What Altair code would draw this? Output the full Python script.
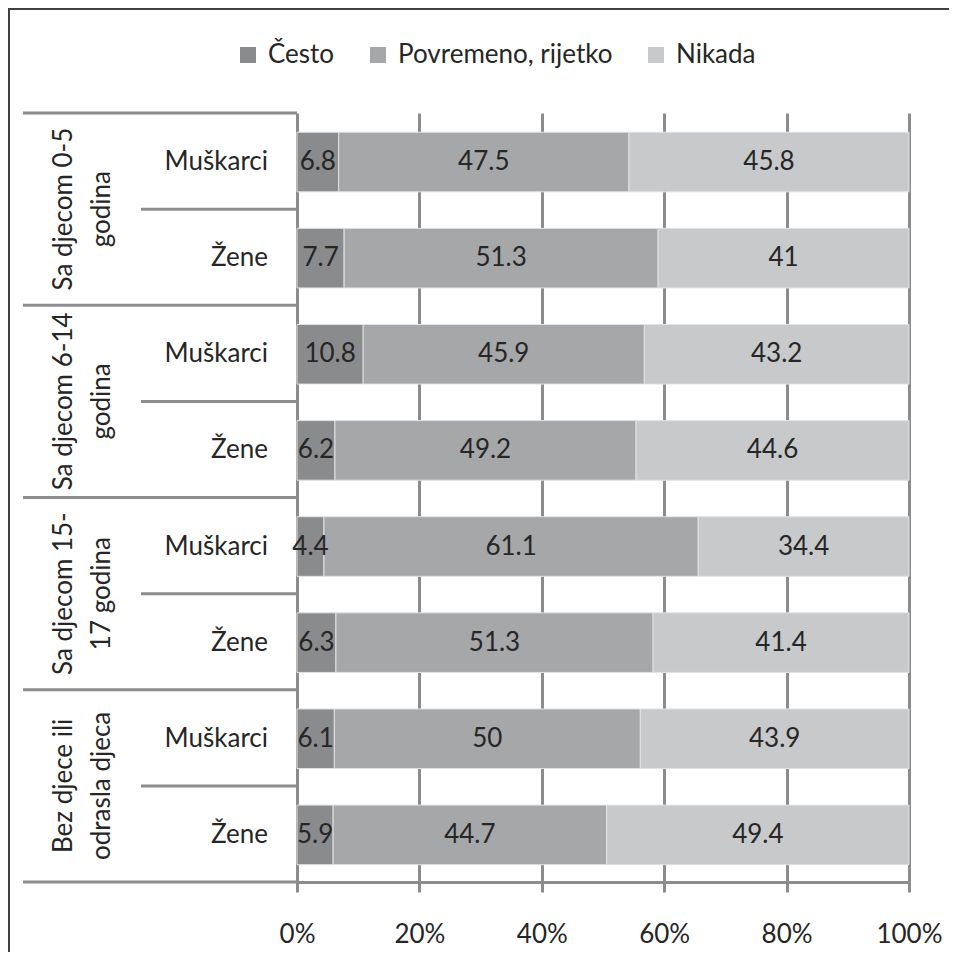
import altair as alt
import pandas as pd

# ---- data ----
groups = ["Sa djecom 0-5\ngodina", "Sa djecom 6-14\ngodina",
          "Sa djecom 15-\n17 godina", "Bez djece ili\nodrasla djeca"]
sexes = ["Muškarci", "Žene"]
categories = ["Često", "Povremeno, rijetko", "Nikada"]
cesto = [6.8, 7.7, 10.8, 6.2, 4.4, 6.3, 6.1, 5.9]
povremeno = [47.5, 51.3, 45.9, 49.2, 61.1, 51.3, 50, 44.7]
nikada = [45.8, 41, 43.2, 44.6, 34.4, 41.4, 43.9, 49.4]
x_ticks = [0, 0.2, 0.4, 0.6, 0.8, 1.0]
colors = ["#8a8b8d", "#a6a7a9", "#c8c9cb"]

series = [cesto, povremeno, nikada]
rows = []
for r in range(len(cesto)):
    for k, cat in enumerate(categories):
        v = series[k][r]
        rows.append({"row": r, "cat": cat, "order": k, "value": v,
                     "label": f"{v:g}"})
df = pd.DataFrame(rows)

df_sub = pd.DataFrame({"row": list(range(len(groups) * len(sexes))),
                       "sex": sexes * len(groups)})
df_grp = pd.DataFrame({"g": list(range(len(groups))), "label": groups})
df_gsep = pd.DataFrame({"b": [0, 2, 4, 6, 8]})
df_ssep = pd.DataFrame({"b": [1, 3, 5, 7]})
one = pd.DataFrame({"a": [0]})

FONT = "Lato"
TXT = "#262626"
GRID = "#8c8c8e"

yscale = alt.Scale(domain=[0, 8], reverse=True, nice=False, zero=False)
xscale = alt.Scale(domain=[0, 1], nice=False)

xaxis = alt.Axis(values=x_ticks, format="%", title=None, grid=True,
                 gridColor=GRID, gridWidth=3, domainColor=GRID, domainWidth=3,
                 tickColor=GRID, tickWidth=3, tickSize=10, labelFlush=False,
                 labelFont=FONT, labelFontSize=26, labelColor=TXT,
                 labelPadding=29)

base = alt.Chart(df).transform_stack(
    stack="value", groupby=["row"], as_=["x0", "x1"],
    sort=[alt.SortField("order")], offset="normalize"
).transform_calculate(
    ya="datum.row + 0.2", yb="datum.row + 0.82",
    xm="(datum.x0 + datum.x1) / 2", ym="datum.row + 0.51"
)

bars = base.mark_rect(stroke="#e2e2e2", strokeWidth=1).encode(
    x=alt.X("x0:Q", scale=xscale, axis=xaxis),
    x2="x1:Q",
    y=alt.Y("ya:Q", scale=yscale, axis=None),
    y2="yb:Q",
    color=alt.Color("cat:N",
                    scale=alt.Scale(domain=categories, range=colors),
                    legend=alt.Legend(orient="none", legendX=-62, legendY=-71,
                                      direction="horizontal", title=None,
                                      symbolType="square", symbolSize=256,
                                      symbolStrokeWidth=0, labelFont=FONT,
                                      labelFontSize=26, labelColor=TXT,
                                      labelOffset=7, columnPadding=30,
                                      padding=0, labelLimit=400)),
)

values = base.mark_text(font=FONT, fontSize=26, color=TXT,
                        baseline="middle").encode(
    x="xm:Q", y="ym:Q", text="label:N")

sub = alt.Chart(df_sub).transform_calculate(ym="datum.row + 0.51").mark_text(
    font=FONT, fontSize=26, color=TXT, align="right", baseline="middle"
).encode(x=alt.value(-29), y="ym:Q", text="sex:N")

grp = alt.Chart(df_grp).transform_calculate(yc="2 * datum.g + 1").mark_text(
    font=FONT, fontSize=26, color=TXT, align="center", baseline="middle",
    angle=270, lineBreak="\n", lineHeight=38
).encode(x=alt.value(-233), y="yc:Q", text="label:N")

gsep = alt.Chart(df_gsep).mark_rule(color=GRID, strokeWidth=3).encode(
    x=alt.value(-274), x2=alt.value(0), y="b:Q")
ssep = alt.Chart(df_ssep).mark_rule(color=GRID, strokeWidth=3).encode(
    x=alt.value(-156), x2=alt.value(0), y="b:Q")

border_top = alt.Chart(one).mark_rule(color="#404040", strokeWidth=2).encode(
    x=alt.value(-289), x2=alt.value(700), y=alt.value(-104))
border_left = alt.Chart(one).mark_rule(color="#404040", strokeWidth=2).encode(
    x=alt.value(-288), y=alt.value(-105), y2=alt.value(900))

chart = alt.layer(
    bars, values, sub, grp, gsep, ssep, border_top, border_left
).properties(
    width=612, height=769,
    autosize=alt.AutoSizeParams(type="none"),
    padding={"left": 289, "top": 105, "right": 40, "bottom": 70},
    background="white",
).configure_view(stroke=None)

chart.save("out.html", embed_options={"renderer": "svg", "actions": False})
